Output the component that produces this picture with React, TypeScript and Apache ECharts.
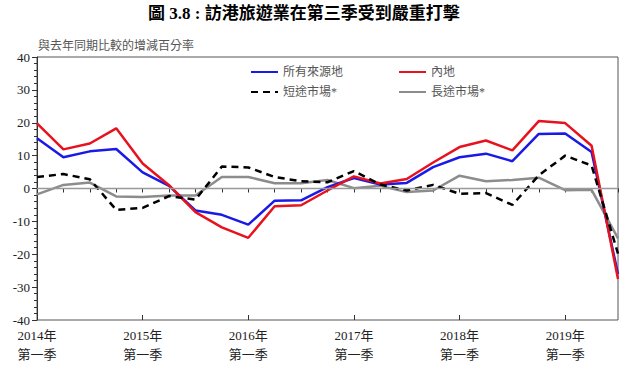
import React, { useEffect, useRef } from "react";
import * as echarts from "echarts";

const years = ["2014", "2015", "2016", "2017", "2018", "2019"];
const quarterNames = ["第一季", "第二季", "第三季", "第四季"];
const categories: string[] = [];
years.forEach((y) => quarterNames.forEach((q) => categories.push(`${y}年\n${q}`)));
const cats = categories.slice(0, 23);

const allSources = [15.3, 9.5, 11.3, 12.0, 4.9, 0.8, -6.7, -8.0, -11.0, -3.7, -3.6, 0.4, 3.2, 1.2, 1.7, 6.5, 9.5, 10.6, 8.3, 16.6, 16.7, 11.1, -26.0];
const mainland = [19.8, 11.9, 13.7, 18.3, 7.6, 1.0, -7.2, -11.8, -15.0, -5.4, -5.1, -0.6, 3.7, 1.5, 2.9, 7.9, 12.6, 14.6, 11.6, 20.5, 19.9, 13.0, -27.5];
const shortHaul = [3.5, 4.4, 2.8, -6.5, -5.9, -2.3, -3.4, 6.7, 6.4, 3.5, 2.2, 1.9, 5.3, 1.2, -0.6, 1.1, -1.6, -1.4, -5.0, 4.0, 10.0, 7.0, -19.8];
const longHaul = [-1.8, 1.1, 1.8, -2.4, -2.6, -2.1, -2.1, 3.5, 3.5, 1.6, 1.6, 2.6, 0.1, 0.8, -1.1, -0.6, 3.9, 2.2, 2.6, 3.3, -0.5, -0.4, -15.2];

const names = ["所有來源地", "內地", "短途市場*", "長途市場*"];

const SERIF = "'Liberation Serif', 'DejaVu Serif', 'Noto Sans CJK TC', serif";
const CJK = "'Liberation Serif', 'Noto Sans CJK TC', sans-serif";

export default function App() {
  const ref = useRef<HTMLDivElement>(null);
  useEffect(() => {
    if (!ref.current) return;
    const chart = echarts.init(ref.current, undefined, { renderer: "svg" });
    const legendText = { fontFamily: CJK, fontSize: 12, color: "#555" };
    const mkLegend = (name: string, left: number, top: number) => ({
      data: [name],
      left,
      top,
      itemWidth: 27,
      itemHeight: 14,
      itemGap: 6,
      textStyle: legendText,
      itemStyle: { opacity: 0 },
    });
    chart.setOption({
      animation: false,
      backgroundColor: "#fff",
      title: {
        text: "圖 3.8 : 訪港旅遊業在第三季受到嚴重打擊",
        left: 143,
        top: 0,
        textStyle: { fontFamily: CJK, fontSize: 17, fontWeight: "bold", color: "#000" },
      },
      graphic: [
        {
          type: "text",
          left: 38,
          top: 40,
          style: { text: "與去年同期比較的增減百分率", fontFamily: CJK, fontSize: 12, fill: "#555" },
        },
      ],
      legend: [
        mkLegend(names[0], 245, 61),
        mkLegend(names[1], 393, 61),
        mkLegend(names[2], 245, 81),
        mkLegend(names[3], 393, 81),
      ],
      grid: {
        left: 37,
        right: 7,
        top: 57,
        bottom: 45,
        show: true,
        borderColor: "#555",
        borderWidth: 1,
        backgroundColor: "transparent",
      },
      xAxis: [
        {
          type: "category",
          data: cats,
          boundaryGap: false,
          axisLine: { show: true, lineStyle: { color: "#333", width: 1 } },
          axisTick: { show: true, interval: 0, length: 4, lineStyle: { color: "#333" } },
          axisLabel: {
            interval: 3,
            fontFamily: SERIF,
            fontSize: 13,
            color: "#222",
            lineHeight: 19,
            margin: 6,
          },
          splitLine: { show: false },
        },
        {
          type: "category",
          data: cats,
          boundaryGap: false,
          position: "bottom",
          axisLine: { show: false },
          axisTick: { show: true, interval: 3, inside: true, length: 5, lineStyle: { color: "#333" } },
          axisLabel: { show: false },
          splitLine: { show: false },
        },
      ],
      yAxis: {
        type: "value",
        min: -40,
        max: 40,
        interval: 10,
        axisLine: { show: true, lineStyle: { color: "#333", width: 1 } },
        axisTick: { show: true, length: 5, lineStyle: { color: "#333" } },
        minorTick: { show: true, splitNumber: 5, length: 3, lineStyle: { color: "#333" } },
        axisLabel: { fontFamily: SERIF, fontSize: 13, color: "#222", margin: 7 },
        splitLine: { show: false },
      },
      series: [
        {
          name: names[3],
          type: "line",
          data: longHaul,
          symbol: "none",
          lineStyle: { color: "#8c8c8c", width: 2.5 },
          itemStyle: { color: "#8c8c8c" },
          markLine: {
            silent: true,
            symbol: "none",
            label: { show: false },
            lineStyle: { color: "#999", width: 1.3, type: "solid" },
            data: [{ yAxis: 0 }],
          },
        },
        {
          name: names[0],
          type: "line",
          data: allSources,
          symbol: "none",
          lineStyle: { color: "#1a1ae6", width: 2.5 },
          itemStyle: { color: "#1a1ae6" },
        },
        {
          name: names[1],
          type: "line",
          data: mainland,
          symbol: "none",
          lineStyle: { color: "#e8121e", width: 2.5 },
          itemStyle: { color: "#e8121e" },
        },
        {
          name: names[2],
          type: "line",
          data: shortHaul,
          symbol: "none",
          lineStyle: { color: "#000", width: 2.5, type: [7, 5] },
          itemStyle: { color: "#000" },
        },
      ],
    });
    return () => chart.dispose();
  }, []);
  return (
    <div
      ref={ref}
      style={{ position: "fixed", left: 0, top: 0, width: 625, height: 365, background: "#fff" }}
    />
  );
}
